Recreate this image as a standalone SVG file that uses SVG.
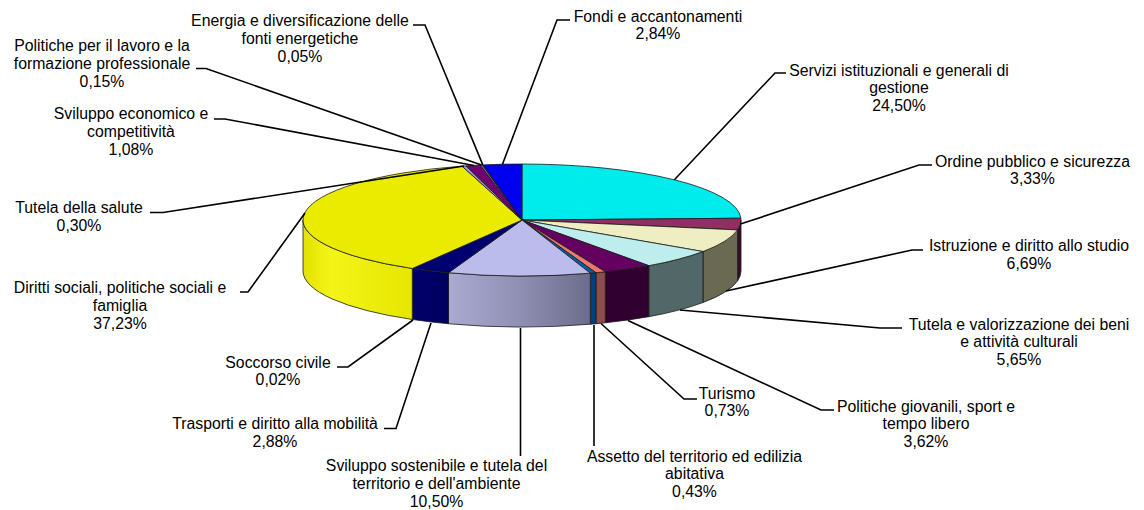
<svg xmlns="http://www.w3.org/2000/svg" width="1144" height="510" viewBox="0 0 1144 510">
<style>
.t{font-family:"Liberation Sans",Arial,sans-serif;font-size:15.8px;fill:#000;text-anchor:middle}
.s{stroke:#1a1a1a;stroke-width:0.8;stroke-linejoin:round}
.ld{fill:none;stroke:#000;stroke-width:1.6;stroke-linejoin:miter}
</style>
<defs>
<linearGradient id="gYel" x1="303" y1="0" x2="413" y2="0" gradientUnits="userSpaceOnUse">
<stop offset="0" stop-color="#E2E200"/><stop offset="0.25" stop-color="#F4F418"/><stop offset="1" stop-color="#E6E600"/>
</linearGradient>
<linearGradient id="gLav" x1="448" y1="0" x2="590" y2="0" gradientUnits="userSpaceOnUse">
<stop offset="0" stop-color="#AAAAD2"/><stop offset="0.5" stop-color="#9090B4"/><stop offset="1" stop-color="#6C6C8C"/>
</linearGradient>
<linearGradient id="gNav" x1="412" y1="0" x2="448" y2="0" gradientUnits="userSpaceOnUse">
<stop offset="0" stop-color="#00006A"/><stop offset="1" stop-color="#000060"/>
</linearGradient>
</defs>
<rect width="1144" height="510" fill="#fff"/>

<g id="pie">
<g id="slice-servizi">
<path class="s" fill="#00EBEB" d="M522,220 L522,164 A219,56 0 0 1 740.89,218.24 Z"/>
</g>
<g id="slice-ordine">
<path class="s" fill="#3C0A2A" d="M741,220 A219,56 0 0 1 737.55,229.91 L737.55,280.91 A219,56 0 0 0 741,271 Z"/>
<path class="s" fill="#8E3060" d="M522,220 L740.89,218.24 A219,56 0 0 1 737.55,229.91 Z"/>
</g>
<g id="slice-istruzione">
<path class="s" fill="#6A6A52" d="M737.55,229.91 A219,56 0 0 1 702.99,251.53 L702.99,302.53 A219,56 0 0 0 737.55,280.91 Z"/>
<path class="s" fill="#EEEEC2" d="M522,220 L737.55,229.91 A219,56 0 0 1 702.99,251.53 Z"/>
</g>
<g id="slice-tutela-beni">
<path class="s" fill="#526868" d="M702.99,251.53 A219,56 0 0 1 648.81,265.66 L648.81,316.66 A219,56 0 0 0 702.99,302.53 Z"/>
<path class="s" fill="#BEEDED" d="M522,220 L702.99,251.53 A219,56 0 0 1 648.81,265.66 Z"/>
</g>
<g id="slice-politiche-giovanili">
<path class="s" fill="#300030" d="M648.81,265.66 A219,56 0 0 1 605.30,271.79 L605.30,322.79 A219,56 0 0 0 648.81,316.66 Z"/>
<path class="s" fill="#640060" d="M522,220 L648.81,265.66 A219,56 0 0 1 605.30,271.79 Z"/>
</g>
<g id="slice-turismo">
<path class="s" fill="#8E4C4C" d="M605.30,271.79 A219,56 0 0 1 595.92,272.71 L595.92,323.71 A219,56 0 0 0 605.30,322.79 Z"/>
<path class="s" fill="#F07868" d="M522,220 L605.30,271.79 A219,56 0 0 1 595.92,272.71 Z"/>
</g>
<g id="slice-assetto">
<path class="s" fill="#004080" d="M595.92,272.71 A219,56 0 0 1 590.33,273.20 L590.33,324.20 A219,56 0 0 0 595.92,323.71 Z"/>
<path class="s" fill="#0060B0" d="M522,220 L595.92,272.71 A219,56 0 0 1 590.33,273.20 Z"/>
</g>
<g id="slice-sviluppo-sostenibile">
<path class="s" fill="url(#gLav)" d="M590.33,273.20 A219,56 0 0 1 448.47,272.75 L448.47,323.75 A219,56 0 0 0 590.33,324.20 Z"/>
<path class="s" fill="#BCBCEC" d="M522,220 L590.33,273.20 A219,56 0 0 1 448.47,272.75 Z"/>
</g>
<g id="slice-trasporti">
<path class="s" fill="url(#gNav)" d="M448.47,272.75 A219,56 0 0 1 412.54,268.50 L412.54,319.50 A219,56 0 0 0 448.47,323.75 Z"/>
<path class="s" fill="#000070" d="M522,220 L448.47,272.75 A219,56 0 0 1 412.54,268.50 Z"/>
</g>
<g id="slice-soccorso">
<path class="s" fill="#3030A0" d="M522,220 L412.54,268.50 A219,56 0 0 1 412.30,268.47 Z"/>
</g>
<g id="slice-diritti">
<path class="s" fill="url(#gYel)" d="M412.30,268.47 A219,56 0 0 1 303,220 L303,271 A219,56 0 0 0 412.30,319.47 Z"/>
<path class="s" fill="#EBEB00" d="M522,220 L412.30,268.47 A219,56 0 0 1 461.96,166.15 Z"/>
</g>
<g id="slice-salute">
<path class="s" fill="#9898CC" d="M522,220 L461.96,166.15 A219,56 0 0 1 465.95,165.87 Z"/>
</g>
<g id="slice-sviluppo-economico">
<path class="s" fill="#700070" d="M522,220 L465.95,165.87 A219,56 0 0 1 480.42,165.02 Z"/>
</g>
<g id="slice-lavoro">
<path class="s" fill="#8080C0" d="M522,220 L480.42,165.02 A219,56 0 0 1 482.45,164.92 Z"/>
</g>
<g id="slice-energia">
<path class="s" fill="#600060" d="M522,220 L482.45,164.92 A219,56 0 0 1 483.13,164.89 Z"/>
</g>
<g id="slice-fondi">
<path class="s" fill="#0000EE" d="M522,220 L483.13,164.89 A219,56 0 0 1 522,164 Z"/>
</g>
</g>

<g id="connectors">
<polyline class="ld" points="413,25 425,25 482.8,164.9"/>
<polyline class="ld" points="570,20 557,20 502.5,164.2"/>
<polyline class="ld" points="786,73 775,73 674.4,179.8"/>
<polyline class="ld" points="932,165 919,165 740.4,224.1"/>
<polyline class="ld" points="923,250 912,250 726,291"/>
<polyline class="ld" points="902,328 880,328 680,310"/>
<polyline class="ld" points="834,410 821,410 628,320.5"/>
<polyline class="ld" points="697,399 684,399 601,323.5"/>
<polyline class="ld" points="594,446 594,325"/>
<polyline class="ld" points="520.5,456 520.5,328"/>
<polyline class="ld" points="384,428.5 396,428.5 431,323"/>
<polyline class="ld" points="337,367 348,367 413,320"/>
<polyline class="ld" points="240,292 248,292 305,213"/>
<polyline class="ld" points="150,212.5 163,212.5 464,166"/>
<polyline class="ld" points="214,119 225,119 474,165.5"/>
<polyline class="ld" points="196,68.5 206,68.5 481.5,165"/>
</g>

<g id="label-energia"><text class="t" x="300" y="26">Energia e diversificazione delle</text><text class="t" x="300" y="43.8">fonti energetiche</text><text class="t" x="300" y="61.6">0,05%</text></g>
<g id="label-fondi"><text class="t" x="658" y="21.5">Fondi e accantonamenti</text><text class="t" x="658" y="39.3">2,84%</text></g>
<g id="label-servizi"><text class="t" x="899" y="75.5">Servizi istituzionali e generali di</text><text class="t" x="899" y="93.3">gestione</text><text class="t" x="899" y="111.1">24,50%</text></g>
<g id="label-ordine"><text class="t" x="1032.5" y="166.5">Ordine pubblico e sicurezza</text><text class="t" x="1032.5" y="184.3">3,33%</text></g>
<g id="label-istruzione"><text class="t" x="1029" y="251">Istruzione e diritto allo studio</text><text class="t" x="1029" y="268.8">6,69%</text></g>
<g id="label-tutela-beni"><text class="t" x="1019" y="329.5">Tutela e valorizzazione dei beni</text><text class="t" x="1019" y="347.3">e attività culturali</text><text class="t" x="1019" y="365.1">5,65%</text></g>
<g id="label-politiche-giovanili"><text class="t" x="926" y="411.5">Politiche giovanili, sport e</text><text class="t" x="926" y="429.3">tempo libero</text><text class="t" x="926" y="447.1">3,62%</text></g>
<g id="label-turismo"><text class="t" x="727" y="398.5">Turismo</text><text class="t" x="727" y="416.3">0,73%</text></g>
<g id="label-assetto"><text class="t" x="694.5" y="461.5">Assetto del territorio ed edilizia</text><text class="t" x="694.5" y="479.3">abitativa</text><text class="t" x="694.5" y="497.1">0,43%</text></g>
<g id="label-sviluppo-sostenibile"><text class="t" x="436.5" y="471">Sviluppo sostenibile e tutela del</text><text class="t" x="436.5" y="488.8">territorio e dell'ambiente</text><text class="t" x="436.5" y="506.6">10,50%</text></g>
<g id="label-trasporti"><text class="t" x="275" y="429">Trasporti e diritto alla mobilità</text><text class="t" x="275" y="446.8">2,88%</text></g>
<g id="label-soccorso"><text class="t" x="278" y="367.5">Soccorso civile</text><text class="t" x="278" y="385.3">0,02%</text></g>
<g id="label-diritti"><text class="t" x="120" y="293">Diritti sociali, politiche sociali e</text><text class="t" x="120" y="310.8">famiglia</text><text class="t" x="120" y="328.6">37,23%</text></g>
<g id="label-salute"><text class="t" x="79" y="213">Tutela della salute</text><text class="t" x="79" y="230.8">0,30%</text></g>
<g id="label-sviluppo-economico"><text class="t" x="131" y="119">Sviluppo economico e</text><text class="t" x="131" y="136.8">competitività</text><text class="t" x="131" y="154.6">1,08%</text></g>
<g id="label-lavoro"><text class="t" x="102" y="51">Politiche per il lavoro e la</text><text class="t" x="102" y="68.8">formazione professionale</text><text class="t" x="102" y="86.6">0,15%</text></g>
</svg>
